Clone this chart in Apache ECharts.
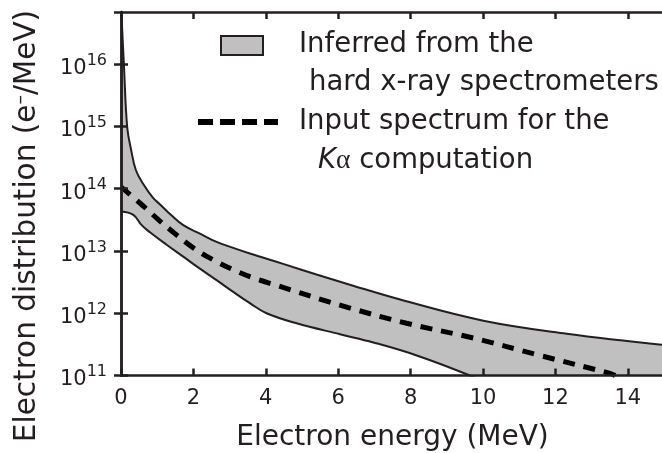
<!DOCTYPE html>
<html>
<head>
<meta charset="utf-8">
<script src="https://cdn.jsdelivr.net/npm/echarts@6/dist/echarts.min.js"></script>
<style>
html, body { margin: 0; padding: 0; overflow: hidden; background: #fff; }
#chart { width: 664px; height: 453px; }
</style>
</head>
<body>
<div id="chart"></div>
<script>
// values: [energy MeV, electrons / MeV]
var upperBound = [
  [0, 8.9e16], [0.08, 1.0e16], [0.17, 1.0e15], [0.28, 4.2e14], [0.41, 2.0e14],
  [0.61, 1.2e14], [0.88, 7.2e13], [1.08, 5.6e13], [1.40, 3.7e13], [1.72, 2.6e13],
  [2.18, 1.9e13], [2.64, 1.4e13], [3.10, 1.12e13], [3.56, 9.1e12], [4.48, 6.2e12],
  [5.4, 4.2e12], [6.3, 2.9e12], [7.71, 1.66e12], [10.01, 7.6e11], [12.31, 4.7e11],
  [15, 3.1e11]
]
var lowerBound = [
  [0, 4.3e13], [0.34, 3.8e13], [0.57, 2.6e13], [0.80, 2.0e13], [1.26, 1.26e13],
  [1.72, 8.1e12], [2.18, 5.2e12], [2.64, 3.4e12], [3.10, 2.2e12], [3.56, 1.45e12],
  [4.02, 1.0e12], [4.85, 6.9e11], [6.05, 4.6e11], [6.97, 3.4e11], [8.17, 2.1e11],
  [9.64, 1.0e11], [10.2, 7e10]
]
var inputSpectrum = [
  [0, 1.07e14], [0.52, 5.9e13], [1.03, 3.2e13], [1.49, 1.9e13], [2.0, 1.12e13],
  [2.55, 7.2e12], [3.10, 5.0e12], [3.65, 3.7e12], [4.30, 2.8e12], [6.05, 1.35e12],
  [7.89, 6.9e11], [9.73, 4.0e11], [11.57, 2.1e11], [13.51, 1.08e11], [13.65, 1.0e11]
]
var xMin = 0, xMax = 15, xStep = 2
var yMin = 1e11, yMax = 6.9e16

var ink = '#231f20'
var band = '#c0c0c0'
var font = '"DejaVu Sans", sans-serif'

var myChart = echarts.init(document.getElementById('chart'))

var axisLine = { lineStyle: { color: ink, width: 2.5 } }
var axisTick = { inside: true, length: 7, lineStyle: { color: ink, width: 2.5 } }

myChart.setOption({
  backgroundColor: '#fff',
  animation: false,
  grid: { left: 121, right: 0, top: 12, bottom: 77.5, outerBoundsMode: 'none', containLabel: false },
  xAxis: [
    {
      type: 'value', min: xMin, max: xMax, interval: xStep, position: 'bottom', z: 5,
      axisLine: axisLine, axisTick: axisTick, splitLine: { show: false },
      axisLabel: { color: ink, fontFamily: font, fontSize: 21, margin: 13, showMaxLabel: false },
      name: 'Electron energy (MeV)', nameLocation: 'middle', nameGap: 48,
      nameTextStyle: { color: ink, fontFamily: font, fontSize: 28 }
    },
    {
      type: 'value', min: xMin, max: xMax, interval: xStep, position: 'top', z: 5,
      axisLine: axisLine, axisTick: axisTick, splitLine: { show: false },
      axisLabel: { show: false }
    }
  ],
  yAxis: [
    {
      type: 'log', logBase: 10, min: yMin, max: yMax, position: 'left', z: 5,
      axisLine: axisLine, axisTick: axisTick, splitLine: { show: false },
      axisLabel: {
        color: ink, fontFamily: font, fontSize: 21, margin: 14, showMaxLabel: false,
        formatter: function(v) {
          return '{b|10}{s|' + Math.round(Math.log10(v)) + '}'
        },
        rich: {
          b: { fontSize: 21, fontFamily: font, color: ink, lineHeight: 23, padding: [9, 0, 0, 0] },
          s: { fontSize: 16, fontFamily: font, color: ink, lineHeight: 16, verticalAlign: 'top' }
        }
      }
    },
    {
      type: 'log', logBase: 10, min: yMin, max: yMax, position: 'right', z: 5,
      axisLine: axisLine, axisTick: axisTick, splitLine: { show: false },
      axisLabel: { show: false }
    }
  ],
  series: [
    {
      name: 'upper', type: 'line', data: upperBound, symbol: 'none', smooth: 0.4,
      lineStyle: { color: ink, width: 2 },
      areaStyle: { color: band, opacity: 1, origin: 'start' }
    },
    {
      name: 'lower', type: 'line', data: lowerBound, symbol: 'none', smooth: 0.4,
      lineStyle: { color: ink, width: 2 },
      areaStyle: { color: '#fff', opacity: 1, origin: 'start' }
    },
    {
      name: 'input', type: 'line', data: inputSpectrum, symbol: 'none', smooth: 0.4,
      lineStyle: { color: '#000', width: 5, type: [12, 9], cap: 'butt' }
    }
  ],
  graphic: [
    {
      type: 'text', x: 27, y: 226, rotation: Math.PI / 2,
      style: {
        text: 'Electron distribution (e{s|\u2013}/MeV)',
        fontFamily: font, fontSize: 29.5, fill: ink, align: 'center', verticalAlign: 'middle',
        rich: { s: { fontFamily: font, fontSize: 19, fill: ink, verticalAlign: 'top' } }
      }
    },
    {
      type: 'rect', z: 10, shape: { x: 221, y: 36, width: 42, height: 19 },
      style: { fill: band, stroke: ink, lineWidth: 2 }
    },
    {
      type: 'line', z: 10, shape: { x1: 198, y1: 122, x2: 278, y2: 122 },
      style: { stroke: '#000', lineWidth: 6, lineDash: [15, 7] }
    },
    {
      type: 'text', z: 10, x: 299, y: 45,
      style: { text: 'Inferred from the', fontFamily: font, fontSize: 27.5, fill: ink, verticalAlign: 'middle' }
    },
    {
      type: 'text', z: 10, x: 309, y: 83,
      style: { text: 'hard x-ray spectrometers', fontFamily: font, fontSize: 27.5, fill: ink, verticalAlign: 'middle' }
    },
    {
      type: 'text', z: 10, x: 299, y: 122,
      style: { text: 'Input spectrum for the', fontFamily: font, fontSize: 27.5, fill: ink, verticalAlign: 'middle' }
    },
    {
      type: 'text', z: 10, x: 318, y: 161,
      style: {
        text: '{k|K}{a|\u03b1} computation', fontFamily: font, fontSize: 27.5, fill: ink, verticalAlign: 'middle',
        rich: {
          k: { fontFamily: font, fontSize: 27.5, fontStyle: 'italic', fill: ink },
          a: { fontFamily: '"Liberation Serif", serif', fontSize: 27.5, fill: ink }
        }
      }
    }
  ]
})
</script>
</body>
</html>
